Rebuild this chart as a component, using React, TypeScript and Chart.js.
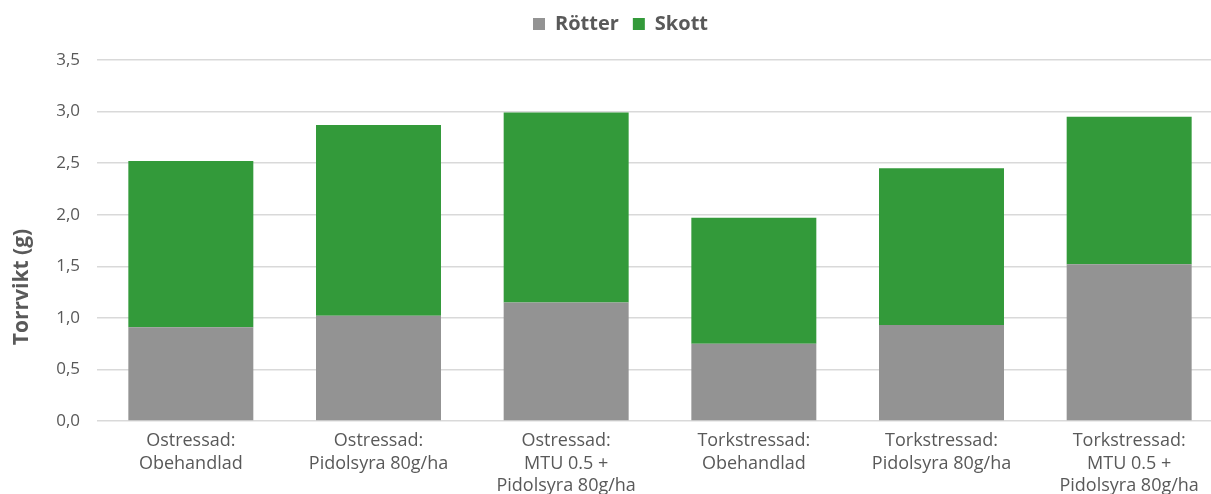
import React, { useEffect, useRef } from "react";
import { Chart, registerables } from "chart.js";

Chart.register(...registerables);

const categories: string[][] = [
  ["Ostressad:", "Obehandlad"],
  ["Ostressad:", "Pidolsyra 80g/ha"],
  ["Ostressad:", "MTU 0.5 +", "Pidolsyra 80g/ha"],
  ["Torkstressad:", "Obehandlad"],
  ["Torkstressad:", "Pidolsyra 80g/ha"],
  ["Torkstressad:", "MTU 0.5 +", "Pidolsyra 80g/ha"],
];
const rotter = [0.91, 1.02, 1.15, 0.75, 0.93, 1.52];
const skott = [1.61, 1.85, 1.84, 1.22, 1.52, 1.43];
const yTitle = "Torrvikt (g)";

const FONT = "'Open Sans', sans-serif";
const TEXT = "#595959";

export default function App() {
  const ref = useRef<HTMLCanvasElement>(null);
  useEffect(() => {
    document.body.style.margin = "0";
    document.body.style.overflow = "hidden";
    const titlePlugin = {
      id: "ytitle",
      beforeInit(chart: any) {
        const lg = chart.legend;
        if (lg) {
          const fit = lg.fit;
          lg.fit = function () {
            fit.call(lg);
            lg.height = 60;
          };
        }
      },
      afterDraw(chart: any) {
        const ctx = chart.ctx;
        ctx.save();
        ctx.translate(22, 287);
        ctx.rotate(-Math.PI / 2);
        ctx.font = `bold 21px ${FONT}`;
        ctx.fillStyle = TEXT;
        ctx.textAlign = "center";
        ctx.textBaseline = "middle";
        ctx.fillText(yTitle, 0, 0);
        ctx.restore();
      },
    };
    const chart = new Chart(ref.current!, {
      type: "bar",
      data: {
        labels: categories,
        datasets: [
          {
            label: "Rötter",
            data: rotter,
            backgroundColor: "#939393",
            barPercentage: 0.666,
            categoryPercentage: 1,
          },
          {
            label: "Skott",
            data: skott,
            backgroundColor: "#339A3A",
            barPercentage: 0.666,
            categoryPercentage: 1,
          },
        ],
      },
      options: {
        animation: false,
        responsive: false,
        maintainAspectRatio: false,
        layout: { padding: { left: 18, right: 0, top: 0, bottom: 0 } },
        plugins: {
          legend: {
            position: "top",
            labels: {
              boxWidth: 12,
              boxHeight: 12,
              padding: 14,
              color: TEXT,
              font: { family: FONT, size: 20, weight: "bold" },
            },
          },
          tooltip: { enabled: false },
        },
        scales: {
          x: {
            stacked: true,
            afterFit: (s: any) => {
              s.height = 73;
              s.paddingLeft = 0;
              s.paddingRight = 0;
            },
            grid: { display: false, drawTicks: false },
            border: { display: false },
            ticks: {
              color: TEXT,
              padding: 9,
              maxRotation: 0,
              autoSkip: false,
              font: { family: FONT, size: 18, lineHeight: 1.25 },
            },
          },
          y: {
            stacked: true,
            min: 0,
            max: 3.5,
            afterFit: (s: any) => {
              s.width = 79;
              s.paddingTop = 0;
              s.paddingBottom = 0;
            },
            grid: { color: "#d9d9d9", lineWidth: 1.5, drawTicks: false },
            border: { display: false },
            ticks: {
              stepSize: 0.5,
              padding: 17,
              color: TEXT,
              font: { family: FONT, size: 17 },
              callback: (v: any) => Number(v).toFixed(1).replace(".", ","),
            },
          },
        },
      },
      plugins: [titlePlugin],
    });
    return () => chart.destroy();
  }, []);
  return (
    <div style={{ width: 1211, height: 494, overflow: "hidden" }}>
      <canvas ref={ref} width={1223} height={494} style={{ display: "block" }} />
    </div>
  );
}
